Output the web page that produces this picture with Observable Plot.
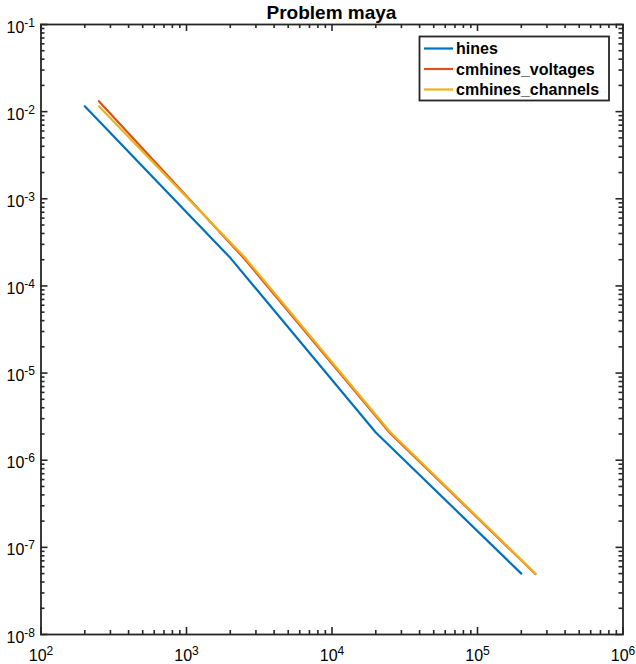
<!DOCTYPE html>
<html>
<head>
<meta charset="utf-8">
<script src="https://cdn.jsdelivr.net/npm/d3@7"></script>
<script src="https://cdn.jsdelivr.net/npm/@observablehq/plot@0.6"></script>
<style>
  html, body { margin: 0; padding: 0; background: #fff; }
  #chart { width: 636px; height: 664px; }
  svg { font-family: "Liberation Sans", Arial, Helvetica, sans-serif; }
</style>
</head>
<body>
<div id="chart"></div>
<script>
// ---- data ----
const title = "Problem maya";
const seriesNames = ["hines", "cmhines_voltages", "cmhines_channels"];
const seriesColors = ["#0072BD", "#D95319", "#EDB120"];

const hinesX = [200, 2000, 20000, 200000];
const hinesY = [0.0115, 2.1e-4, 2.08e-6, 5.0e-8];

const voltagesX = [250, 2500, 25000, 250000];
const voltagesY = [0.0132, 2.05e-4, 2.05e-6, 4.95e-8];

const channelsX = [250, 2500, 25000, 250000];
const channelsY = [0.0115, 2.15e-4, 2.12e-6, 5.0e-8];

const xMajor = [1e2, 1e3, 1e4, 1e5, 1e6];
const yMajor = [1e-8, 1e-7, 1e-6, 1e-5, 1e-4, 1e-3, 1e-2, 1e-1];

// ---- build table ----
const rows = [];
[[hinesX, hinesY], [voltagesX, voltagesY], [channelsX, channelsY]].forEach(([xs, ys], i) => {
  xs.forEach((x, j) => rows.push({series: seriesNames[i], x, y: ys[j]}));
});

function minors(lo, hi) {
  const out = [];
  for (let e = lo; e < hi; e++) for (let m = 2; m <= 9; m++) out.push(m * Math.pow(10, e));
  return out;
}
const xMinor = minors(2, 6);
const yMinor = minors(-8, -1);

const W = 636, H = 664;
const mL = 40.5, mR = 13.5, mT = 24, mB = 30;
const frameW = W - mL - mR, frameH = H - mT - mB;
const axisColor = "#262626";
const majorLen = 7, minorLen = 4, tickW = 1.6;

const plot = Plot.plot({
  width: W, height: H,
  marginLeft: mL, marginRight: mR, marginTop: mT, marginBottom: mB,
  style: {fontFamily: '"Liberation Sans", Arial, sans-serif'},
  x: {type: "log", domain: [1e2, 1e6], label: null},
  y: {type: "log", domain: [1e-8, 1e-1], label: null},
  color: {domain: seriesNames, range: seriesColors},
  marks: [
    // data lines
    Plot.line(rows, {x: "x", y: "y", z: "series", stroke: "series", strokeWidth: 2.2, strokeLinejoin: "round"}),
    Plot.frame({stroke: axisColor, strokeWidth: 1.8}),
    // inward tick marks on all four sides
    Plot.tickX(xMajor, {x: d => d, insetTop: frameH - majorLen, stroke: axisColor, strokeWidth: tickW}),
    Plot.tickX(xMajor, {x: d => d, insetBottom: frameH - majorLen, stroke: axisColor, strokeWidth: tickW}),
    Plot.tickX(xMinor, {x: d => d, insetTop: frameH - minorLen, stroke: axisColor, strokeWidth: tickW}),
    Plot.tickX(xMinor, {x: d => d, insetBottom: frameH - minorLen, stroke: axisColor, strokeWidth: tickW}),
    Plot.tickY(yMajor, {y: d => d, insetRight: frameW - majorLen, stroke: axisColor, strokeWidth: tickW}),
    Plot.tickY(yMajor, {y: d => d, insetLeft: frameW - majorLen, stroke: axisColor, strokeWidth: tickW}),
    Plot.tickY(yMinor, {y: d => d, insetRight: frameW - minorLen, stroke: axisColor, strokeWidth: tickW}),
    Plot.tickY(yMinor, {y: d => d, insetLeft: frameW - minorLen, stroke: axisColor, strokeWidth: tickW}),
    Plot.axisX({anchor: "bottom", ticks: xMajor, tickSize: 0, tickPadding: 15, fontSize: 16, fill: "#000",
      tickFormat: d => String(Math.round(Math.log10(d))), label: null}),
    Plot.axisY({anchor: "left", ticks: yMajor, tickSize: 0, tickPadding: 6, fontSize: 16, dy: 3, fill: "#000",
      tickFormat: d => String(Math.round(Math.log10(d))), label: null})
  ]
});

document.getElementById("chart").appendChild(plot);
const svg = d3.select(plot);

// power-of-ten labels with superscript exponent
svg.selectAll('g[aria-label="x-axis tick label"] text, g[aria-label="y-axis tick label"] text').each(function () {
  const t = d3.select(this);
  const exp = t.text();
  if (!exp) return;
  t.text("10");
  t.append("tspan").attr("dy", "-0.5em").attr("font-size", "12px").text(exp);
});

// title
svg.append("text")
  .attr("x", mL + frameW / 2).attr("y", 18.5)
  .attr("text-anchor", "middle")
  .attr("font-size", "19px").attr("font-weight", "bold")
  .attr("fill", "#000")
  .text(title);

// legend
const lg = svg.append("g");
lg.append("rect").attr("x", 419.5).attr("y", 36.5).attr("width", 189.5).attr("height", 64)
  .attr("fill", "#fff").attr("stroke", axisColor).attr("stroke-width", 1.8);
const rowY = [48.5, 69, 89.5];
seriesNames.forEach((name, i) => {
  lg.append("line").attr("x1", 424).attr("x2", 453).attr("y1", rowY[i]).attr("y2", rowY[i])
    .attr("stroke", seriesColors[i]).attr("stroke-width", 2.2);
  lg.append("text").attr("x", 456).attr("y", rowY[i]).attr("dy", "0.36em")
    .attr("text-anchor", "start")
    .attr("font-size", "16px").attr("font-weight", "bold").attr("fill", "#000")
    .text(name);
});
</script>
</body>
</html>
